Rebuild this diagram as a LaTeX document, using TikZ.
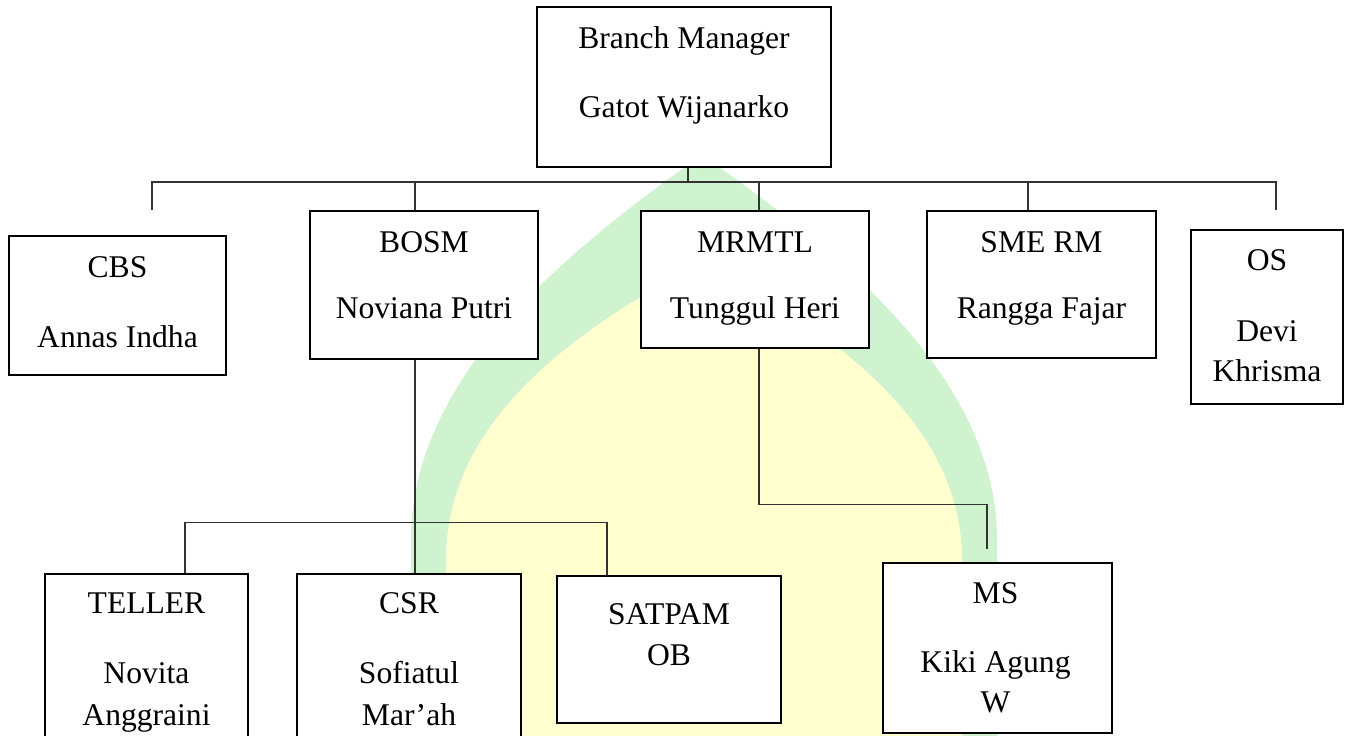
\documentclass[tikz,border=0pt]{standalone}
\usepackage{fontspec}
\setmainfont{Liberation Serif}
\usetikzlibrary{positioning,calc}
\definecolor{wmGreen}{RGB}{206,243,206}
\definecolor{wmYellow}{RGB}{255,255,208}

\begin{document}
\begin{tikzpicture}[x=0.5pt,y=-0.5pt,font=\fontsize{15.8}{19}\selectfont,
      box/.style={draw,line width=1.4pt,fill=white,inner sep=0pt},
      txt/.style={anchor=base,inner sep=0pt},
      link/.style={draw=black!80,line width=0.65pt}]
    \useasboundingbox (0,0) rectangle (1349,735);
    \clip (0,0) rectangle (1349,735);
    % watermark behind the chart
    \fill[wmGreen] (411,740) -- (411,540) .. controls (411,380) and (560,255) .. (702,155)
      .. controls (844,255) and (997,380) .. (997,540) -- (997,740) -- cycle;
    \fill[wmYellow] (446,740) -- (446,560) .. controls (446,420) and (575,330) .. (702,262)
      .. controls (829,330) and (962,420) .. (962,560) -- (962,740) -- cycle;

    \node[box,minimum width=147pt,minimum height=80pt] (bm) at (684,87) {};
    \node[box,minimum width=108.5pt,minimum height=69.5pt] (cbs) at (117.5,305.5) {};
    \node[box,minimum width=114pt,minimum height=74pt] (bosm) at (424,285) {};
    \node[box,minimum width=114pt,minimum height=68.5pt] (mrmtl) at (755,279.5) {};
    \node[box,minimum width=114.5pt,minimum height=73.5pt] (smerm) at (1041.5,284.5) {};
    \node[box,minimum width=76pt,minimum height=87pt] (os) at (1267,317) {};
    \node[box,minimum width=101.5pt,minimum height=103pt] (teller) at (146.5,677) {};
    \node[box,minimum width=112pt,minimum height=103pt] (csr) at (409,677) {};
    \node[box,minimum width=112pt,minimum height=73.5pt] (satpam) at (669,649.5) {};
    \node[box,minimum width=114.5pt,minimum height=85pt] (ms) at (997.5,648) {};

    \node[txt] (bm-role) at (684,48) {Branch Manager};
    \node[txt] (bm-name) at (684,117) {Gatot Wijanarko};
    \node[txt] (cbs-role) at (117.5,277) {CBS};
    \node[txt] (cbs-name) at (117.5,347) {Annas Indha};
    \node[txt] (bosm-role) at (424,252) {BOSM};
    \node[txt] (bosm-name) at (424,318) {Noviana Putri};
    \node[txt] (mrmtl-role) at (755,252) {MRMTL};
    \node[txt] (mrmtl-name) at (755,318) {Tunggul Heri};
    \node[txt] (smerm-role) at (1041.5,252) {SME RM};
    \node[txt] (smerm-name) at (1041.5,318) {Rangga Fajar};
    \node[txt] (os-role) at (1267,270) {OS};
    \node[txt] (os-name1) at (1267,341) {Devi};
    \node[txt] (os-name2) at (1267,381) {Khrisma};
    \node[txt] (teller-role) at (146.5,613) {TELLER};
    \node[txt] (teller-name1) at (146.5,683) {Novita};
    \node[txt] (teller-name2) at (146.5,725) {Anggraini};
    \node[txt] (csr-role) at (409,613) {CSR};
    \node[txt] (csr-name1) at (409,683) {Sofiatul};
    \node[txt] (csr-name2) at (409,725) {Mar’ah};
    \node[txt] (satpam-role) at (669,624) {SATPAM};
    \node[txt] (satpam-name) at (669,665) {OB};
    \node[txt] (ms-role) at (995.5,603) {MS};
    \node[txt] (ms-name1) at (995.5,672) {Kiki Agung};
    \node[txt] (ms-name2) at (995.5,712) {W};

    \coordinate (cbsTip) at (152,210);
    \coordinate (osTip) at (1276,210);
    \coordinate (msTip) at (987,549);
    \draw[link] (cbsTip) -- ++(0,-28) -| (osTip);
    \draw[link] ([xshift=2pt]bm.south) -- ++(0,15);
    \draw[link] ([xshift=-4.5pt]bosm.north) -- ++(0,-29);
    \draw[link] ([xshift=2pt]mrmtl.north) -- ++(0,-29);
    \draw[link] ([xshift=-6.75pt]smerm.north) -- ++(0,-29);
    \draw[link] ([xshift=-4.5pt]bosm.south) -- ([xshift=3pt]csr.north);
    \draw[link] ([xshift=19.25pt]teller.north) -- ++(0,-50) -| ([xshift=-31pt]satpam.north);
    \draw[link] ([xshift=2pt]mrmtl.south) -- ++(0,155) -| (msTip);
  \end{tikzpicture}
\end{document}
